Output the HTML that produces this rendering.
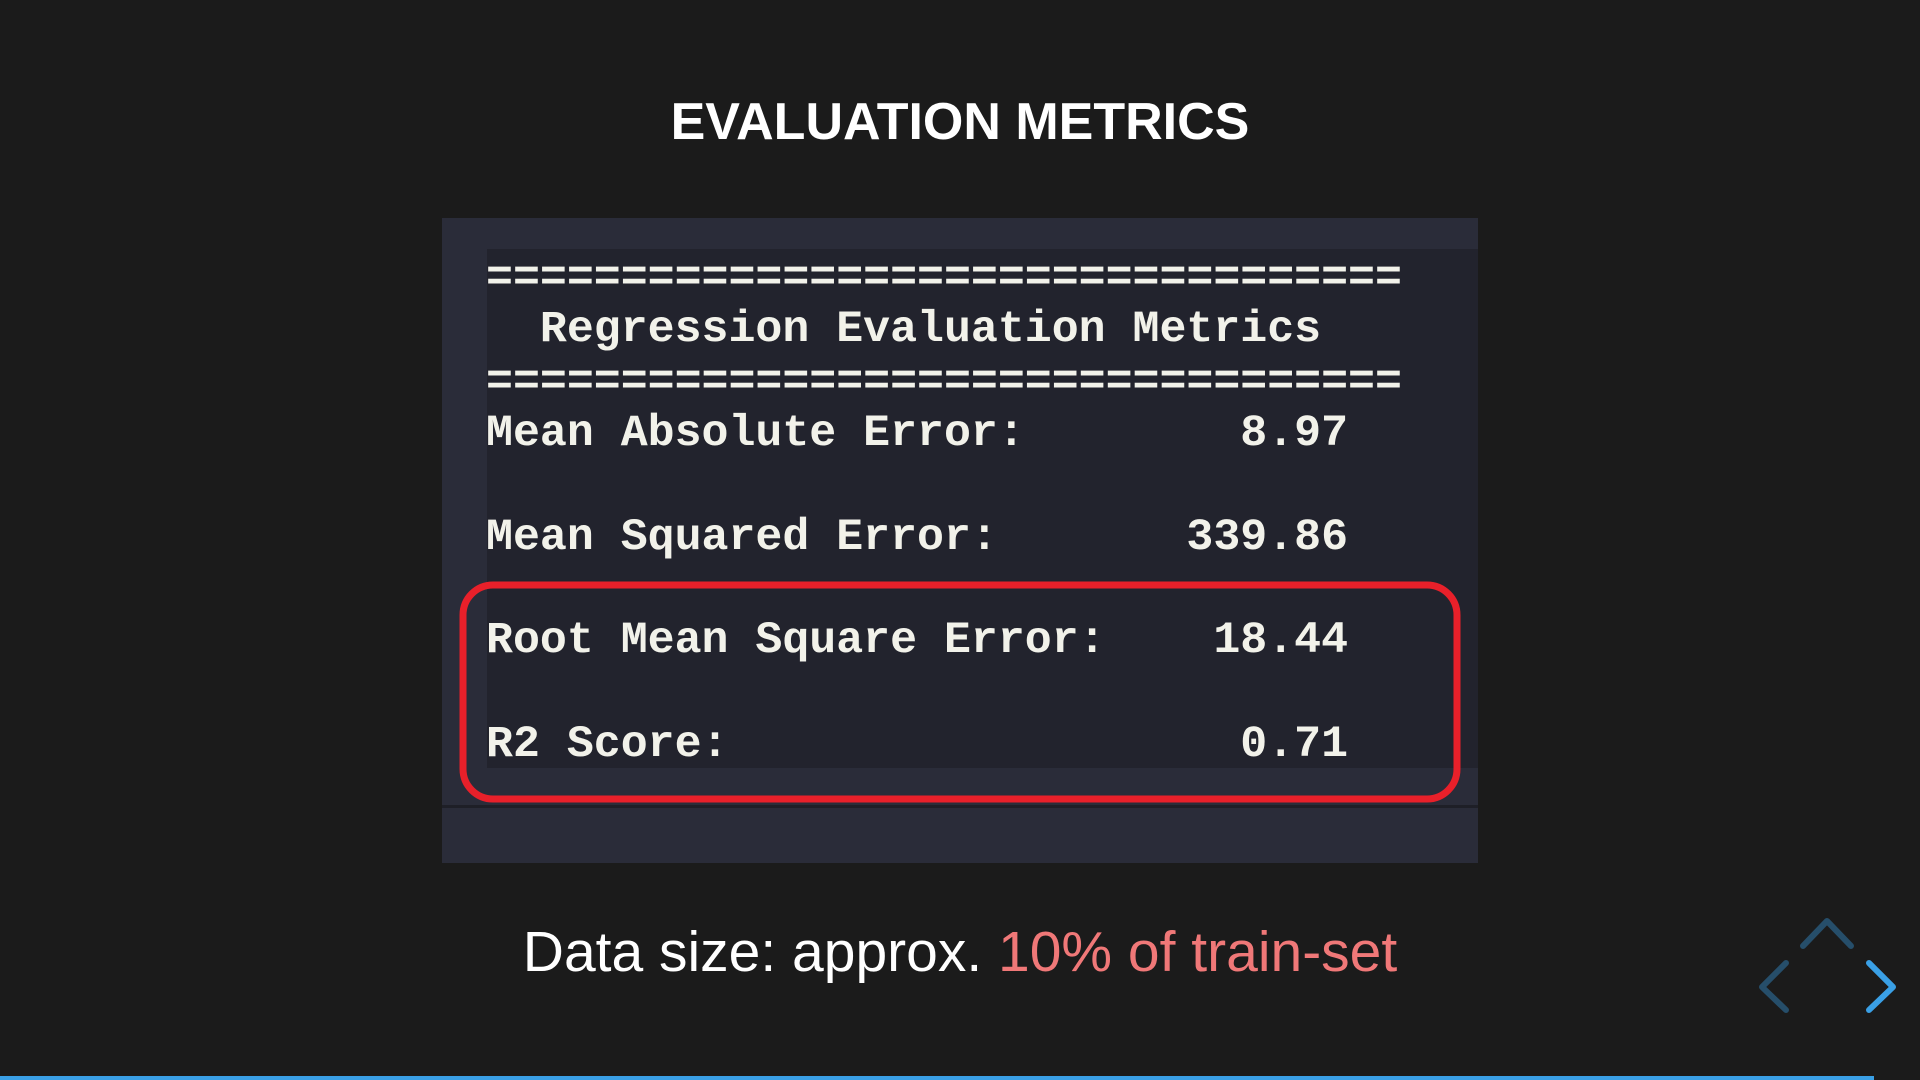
<!DOCTYPE html>
<html><head><meta charset="utf-8"><style>
body{margin:0;width:1920px;height:1080px;background:#1b1b1b;position:relative;overflow:hidden;font-family:"Liberation Sans",sans-serif}
.abs{position:absolute}
.title{left:0;width:1920px;top:92px;text-align:center;color:#fff;font-size:52px;font-weight:bold}
.panel{left:442px;top:218px;width:1036px;height:645px;background:#2a2c39}
.inner{left:487px;top:249px;width:991px;height:519px;background:#22232d}
.sep{left:442px;top:805px;width:1036px;height:3px;background:#1e1f27}
.ln{left:486px;font-family:"Liberation Mono",monospace;font-weight:bold;font-size:44.9px;color:#f2f2ea;white-space:pre;line-height:52px}
.sub{left:0;width:1920px;top:919px;text-align:center;color:#fff;font-size:57px}
.sub span{color:#f07878}
.bar{left:0;top:1076px;width:1874px;height:4px;background:#3aa0e6}
</style></head><body>
<div class="abs title">EVALUATION METRICS</div>
<div class="abs panel"></div>
<div class="abs inner"></div>
<div class="abs sep"></div>
<div class="abs ln" style="top:253px">==================================</div>
<div class="abs ln" style="top:304px">  Regression Evaluation Metrics</div>
<div class="abs ln" style="top:357px">==================================</div>
<div class="abs ln" style="top:408px">Mean Absolute Error:        8.97</div>
<div class="abs ln" style="top:512px">Mean Squared Error:       339.86</div>
<div class="abs ln" style="top:615px">Root Mean Square Error:    18.44</div>
<div class="abs ln" style="top:719px">R2 Score:                   0.71</div>
<svg class="abs" style="left:0;top:0" width="1920" height="1080">
<rect x="463" y="585" width="994" height="214" rx="30" fill="none" stroke="#e8202a" stroke-width="7"/>
<polyline points="1803,946 1827,921 1851,946" fill="none" stroke="#264e6a" stroke-width="6" stroke-linecap="round" stroke-linejoin="round"/>
<polyline points="1786,963 1762,987 1786,1010" fill="none" stroke="#264e6a" stroke-width="6" stroke-linecap="round" stroke-linejoin="round"/>
<polyline points="1869,963 1893,987 1869,1010" fill="none" stroke="#3aa0e6" stroke-width="6" stroke-linecap="round" stroke-linejoin="round"/>
</svg>
<div class="abs sub">Data size: approx. <span>10% of train-set</span></div>
<div class="abs bar"></div>
</body></html>
